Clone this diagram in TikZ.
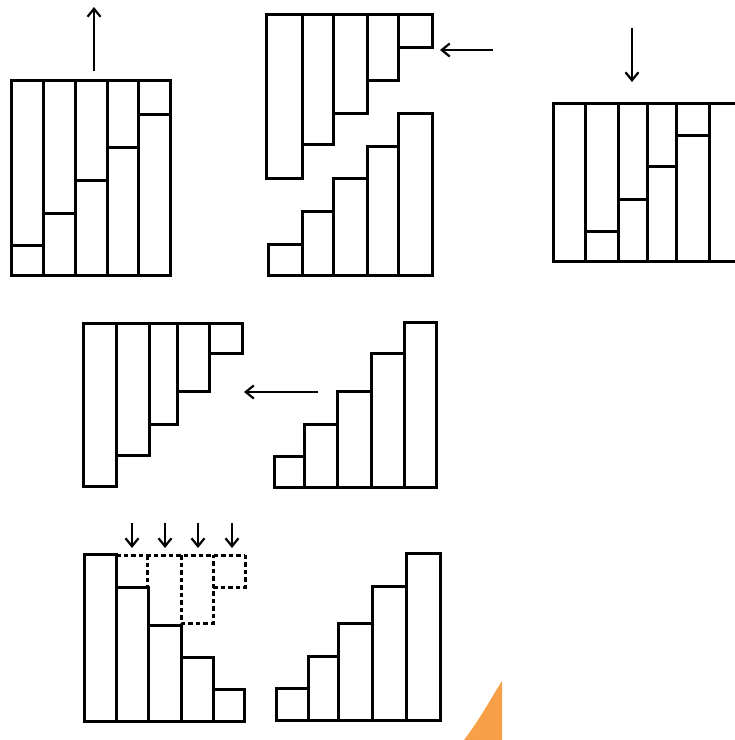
\documentclass[tikz,border=0pt]{standalone}
\usetikzlibrary{arrows.meta}
\definecolor{peel}{RGB}{247,160,72}
\tikzset{
  bar/.style={draw=black, line width=3pt, line join=miter},
  ghost/.style={draw=black, line width=3pt, dash pattern=on 4.5pt off 3pt},
  mover/.style={draw=black, line width=2pt, -{Straight Barb[length=8pt,width=13pt,line width=2.2pt]}},
}
\begin{document}
\begin{tikzpicture}[x=1pt,y=-1pt]
\useasboundingbox (0,0) rectangle (735,740);
\begin{scope}
\clip (0,0) rectangle (735,740);
% orange corner
\fill[peel] (502,681) .. controls (490,700) and (478,722) .. (464,740) -- (502,740) -- cycle;

% ---- Figure A (top left): full block with steps
\draw[bar] (11,80) rectangle (170,275);
\foreach \x in {43,75,107,138} \draw[bar] (\x,80) -- (\x,275);
\draw[bar] (11,245) -- (43,245);
\draw[bar] (43,213) -- (75,213);
\draw[bar] (75,180) -- (107,180);
\draw[bar] (107,147) -- (138,147);
\draw[bar] (138,114) -- (170,114);
\coordinate (aS) at (94,71);
\coordinate (aE) at (94,7);
\draw[mover] (aS) -- (aE);

% ---- Figure B upper stair (hanging)
\foreach \xa/\xb/\yb in {266/302/178, 302/333/144, 333/367/113, 367/398/80, 398/432/47}
  \draw[bar] (\xa,14) rectangle (\xb,\yb);
\coordinate (bS) at (493,50);
\coordinate (bE) at (440,50);
\draw[mover] (bS) -- (bE);
% ---- Figure B lower stair
\foreach \xa/\xb/\yt in {268/302/244, 302/333/211, 333/367/178, 367/398/146, 398/432/113}
  \draw[bar] (\xa,\yt) rectangle (\xb,275);

% ---- Figure C (top right)
\draw[bar] (745,103) -- (553,103) -- (553,261) -- (745,261);
\foreach \x in {585,618,647,676,709} \draw[bar] (\x,103) -- (\x,261);
\draw[bar] (585,231) -- (618,231);
\draw[bar] (618,199) -- (647,199);
\draw[bar] (647,166) -- (676,166);
\draw[bar] (676,135) -- (709,135);
\coordinate (cS) at (632,28);
\coordinate (cE) at (632,82);
\draw[mover] (cS) -- (cE);

% ---- Figure D left (hanging stair)
\foreach \xa/\xb/\yb in {83/116/486, 116/149/455, 149/177/424, 177/209/391, 209/242/353}
  \draw[bar] (\xa,323) rectangle (\xb,\yb);
\coordinate (dS) at (318,392);
\coordinate (dE) at (244,392);
\draw[mover] (dS) -- (dE);
% ---- Figure D right (rising stair)
\foreach \xa/\xb/\yt in {274/304/456, 304/337/424, 337/371/391, 371/404/353, 404/436/322}
  \draw[bar] (\xa,\yt) rectangle (\xb,487);

% ---- Figure E left (falling stair with dashed pieces)
\foreach \xa/\xb/\yt in {84/116/554, 116/148/587, 148/181/625, 181/213/657, 213/244/689}
  \draw[bar] (\xa,\yt) rectangle (\xb,721);
\draw[ghost] (116,555) -- (245,555);
\draw[ghost] (147,555) -- (147,587);
\draw[ghost] (181,555) -- (181,623) -- (213,623) -- (213,555);
\draw[ghost] (213,587) -- (245,587) -- (245,555);
\foreach \x/\n in {132/1,165/2,198/3,232/4} {
  \coordinate (eS\n) at (\x,523);
  \coordinate (eE\n) at (\x,548);
  \draw[mover] (eS\n) -- (eE\n);
}
% ---- Figure E right (rising stair)
\foreach \xa/\xb/\yt in {276/308/688, 308/338/656, 338/372/623, 372/406/586, 406/440/553}
  \draw[bar] (\xa,\yt) rectangle (\xb,720);
\end{scope}
\end{tikzpicture}
\end{document}
